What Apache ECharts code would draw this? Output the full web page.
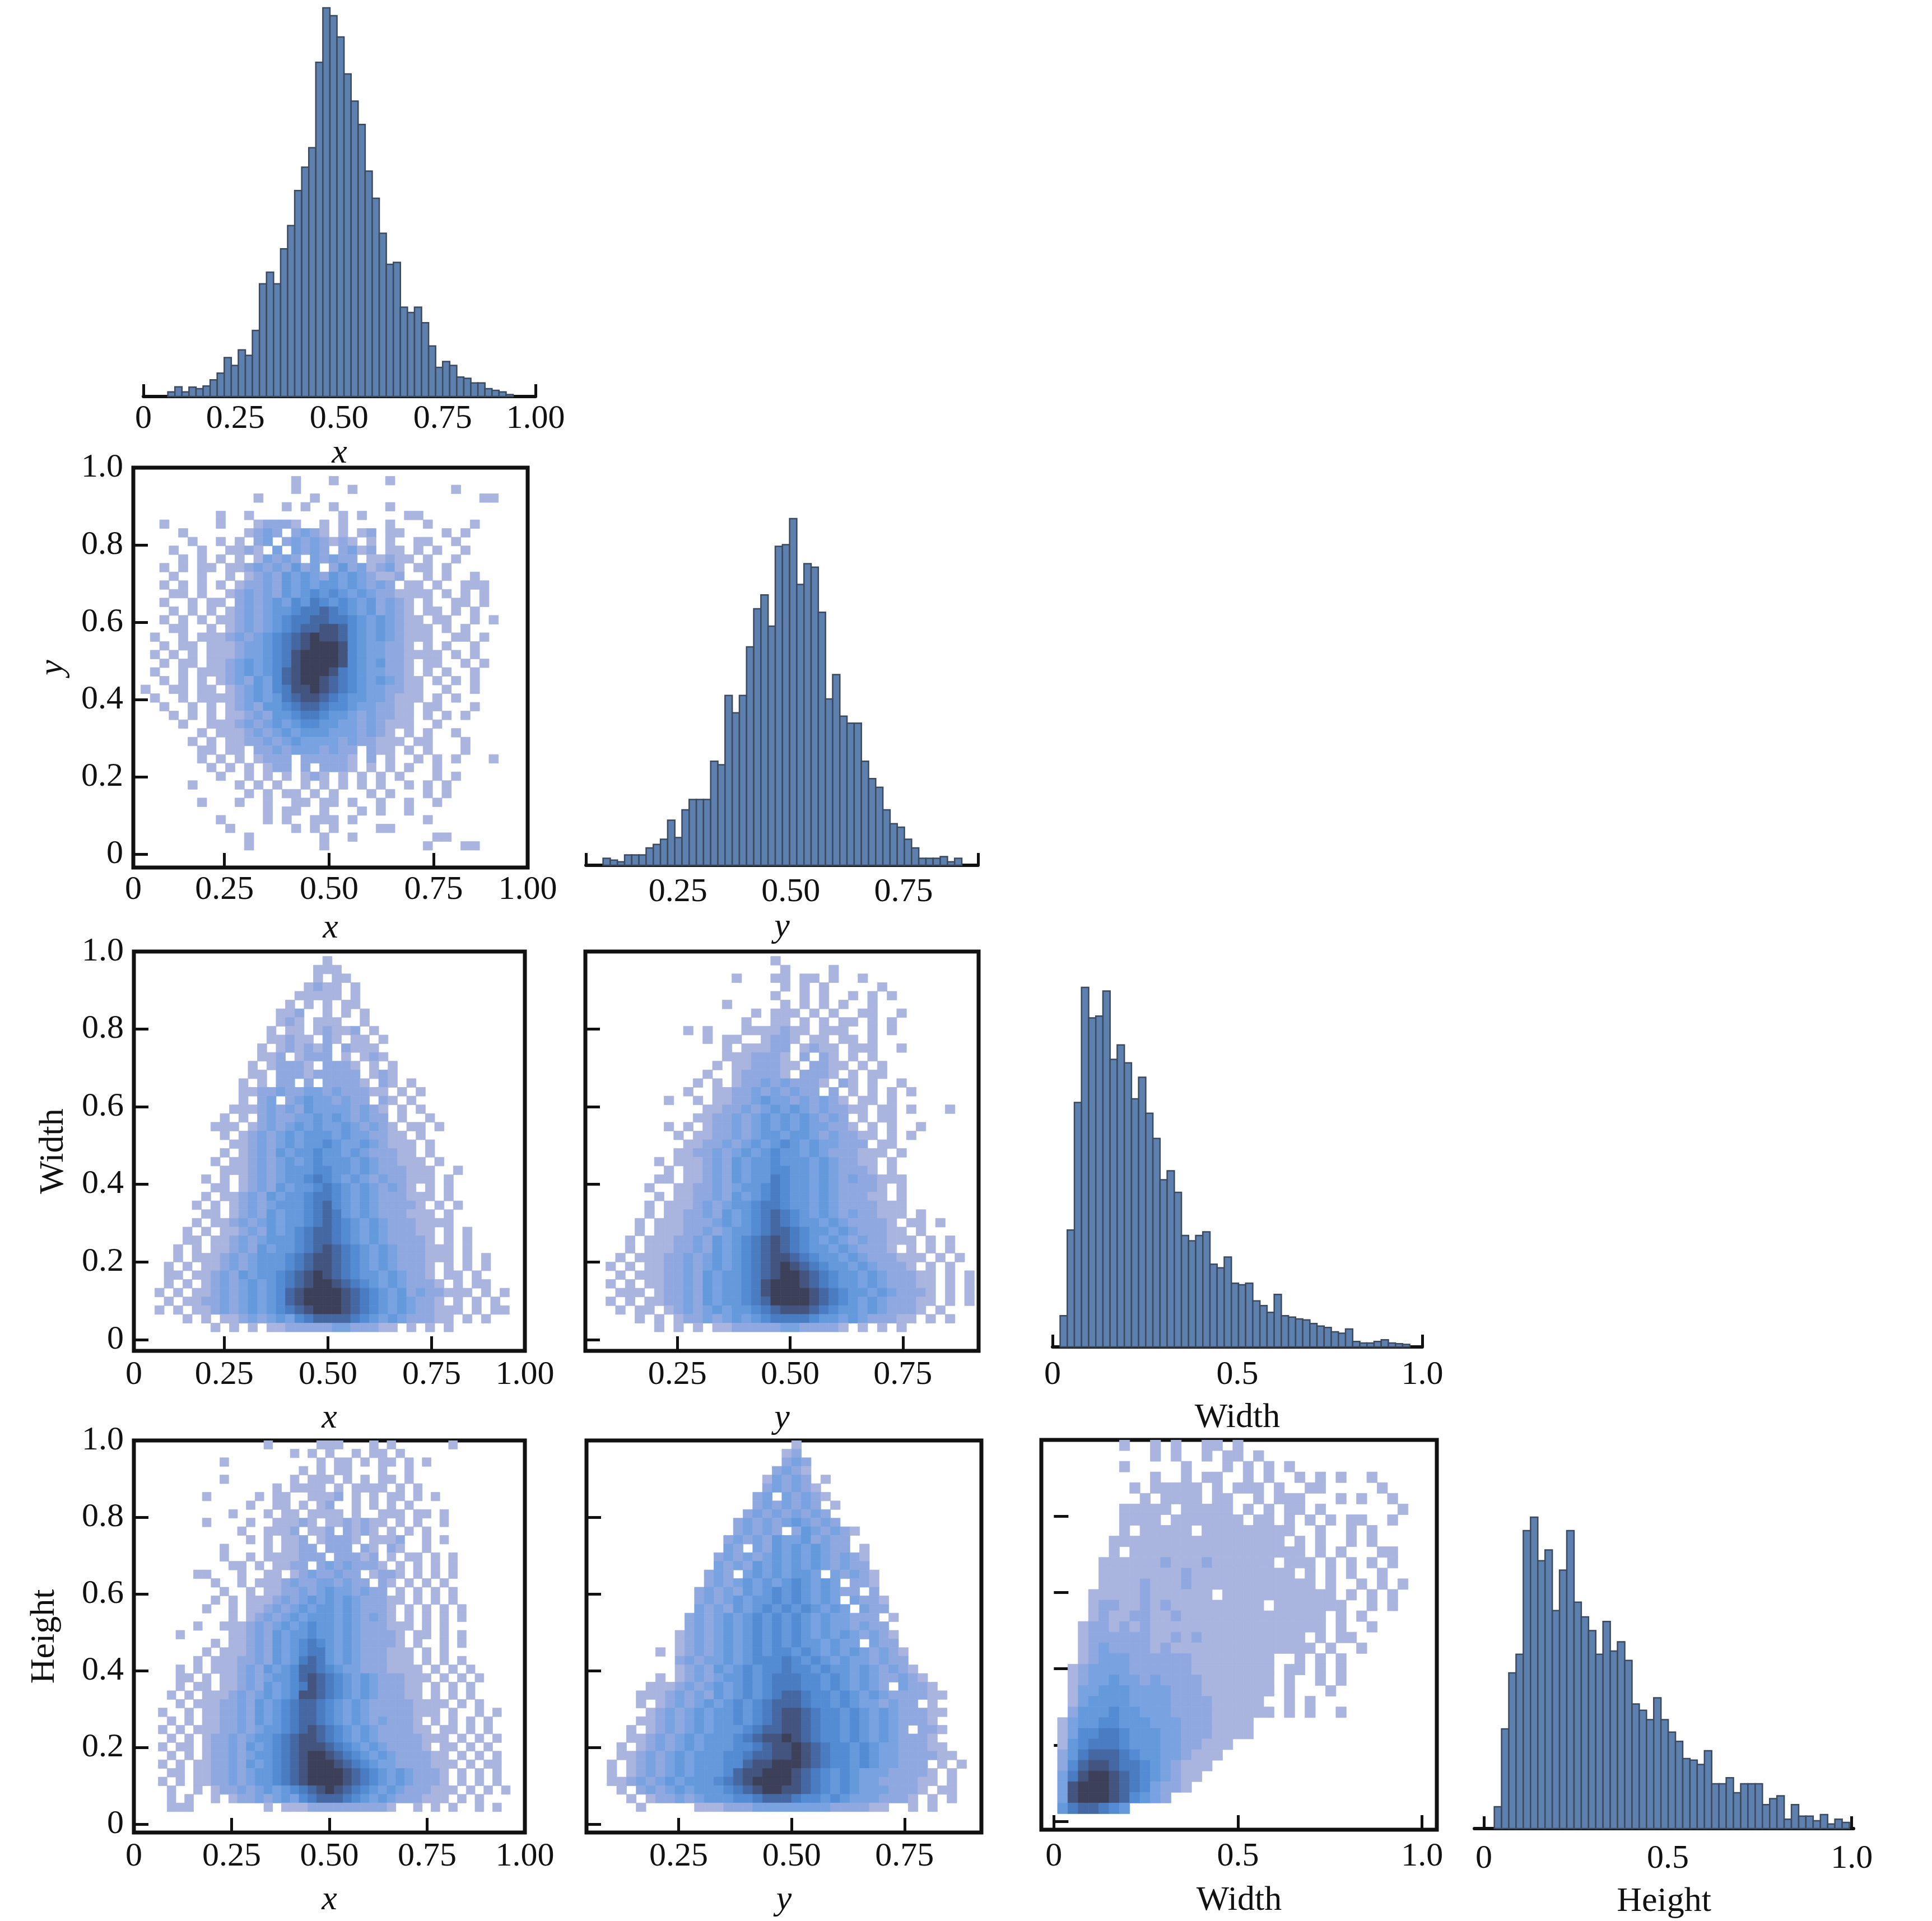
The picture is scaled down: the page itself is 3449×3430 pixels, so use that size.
<!DOCTYPE html>
<html>
<head>
    <meta charset="utf-8">
    <style>
        html, body { margin: 0; padding: 0; background: #ffffff; }
        #main { width: 3449px; height: 3430px; }
    </style>
    <script src="https://cdn.jsdelivr.net/npm/echarts@6/dist/echarts.min.js"></script>
</head>
<body>
    <div id="main"></div>
    <script type="text/javascript">
        // ---- diagonal histograms: bin start, bin width, bar heights (peak = 100) ----
        var xHistStart = 0.087, xHistWidth = 0.017;
        var xHist = [1.2, 2.5, 1.2, 2.4, 2, 2.7, 4.3, 6, 10, 8, 12, 10.6, 17, 29, 32, 29, 38, 44, 53, 59,
            64, 86, 100, 98, 92.5, 83, 76, 70, 58, 51, 42, 34, 34.5, 23, 21.6, 23, 19, 13, 7.5, 9,
            8, 5, 4.7, 3.5, 3.5, 2, 1.6, 1.2, 0.5];

        var yHistStart = 0.084, yHistWidth = 0.0159;
        var yHist = [2, 1.5, 1, 3, 3, 3, 5, 6, 7.5, 13, 8, 16, 19, 19, 19, 30, 29, 49, 44, 49,
            63, 74, 78, 69, 92, 92.5, 100, 81, 87, 86, 73, 48, 55, 43, 41, 41, 30, 25, 22.5, 16,
            12, 11, 7.5, 5, 2, 2, 2, 2.5, 1, 2];

        var wHistStart = 0.0205, wHistWidth = 0.0193;
        var wHist = [8.7, 32.5, 68, 100, 91.5, 92, 99, 80, 84, 79, 69, 75, 65, 58, 46.5, 49, 43, 31, 29.5, 31,
            32, 23, 22, 25, 17.7, 17.3, 17.7, 12.8, 11.5, 9.6, 14.6, 8.7, 8.3, 7.8, 7.5, 6.5, 5.8, 5.4, 4.2, 3.8,
            5, 1.5, 1.1, 1.1, 1.5, 2, 1.1, 0.9, 0.7];

        var hHistStart = 0.0283, hHistWidth = 0.0197;
        var hHist = [7, 32, 50, 56, 95.7, 100, 86, 89.5, 70, 83, 95.7, 72.7, 68, 63.6, 56, 66.5, 57, 60, 54, 40,
            38, 35, 42, 35, 31, 28, 22.5, 22, 20.6, 25, 14.4, 14.4, 16.3, 11.5, 14.4, 14.4, 14.4, 7.7, 9.6, 10.5,
            3, 7.7, 4, 4, 2.5, 4.5, 1.5, 3, 2];

        // ---- 2D histograms: count level per cell (0 empty .. 9 densest), top row first ----
        var xyBins = { x0: 0.05, dx: 0.0225, yTop: 0.9775, dy: 0.0225 };
        var xyCounts = [
            "................1...1.....1.............",
            "................1.....1..........1......",
            "............1.....1.................11..",
            "...............1.1..1.....1.............",
            "........1..1.........1.1....11..........",
            "..1.....1...12221..1.1....1...1....1....",
            "....1......1232.2321.1.12.11....1.1.....",
            ".....1..1.1.23.23232121.1.1..11..1......",
            "...1..1..1121.3.3232.2312.11.1.1..1.....",
            "....1.1.1.1.13232.32322.11211.1..1......",
            "..1.1.11.1123232423.24231231.11.1.......",
            "...1..1..1.12324343243432112..1.1..1....",
            "..1.1.1.1.12232434344343232.11.1..111...",
            "...11.1..1232324345454343221111.1.1.1...",
            "..1..1.11.2323435465454342321.1..11.1...",
            "...1.1.1.12323445667654342321.11.1.1....",
            "..1.1.1.1123234566776654343211.11..1.1..",
            "...11..1.1232345677887543432111.1.1.....",
            ".1..1.1112323456789887543432111..11.1...",
            "..1.11.1112334567899985433221.1.1..1....",
            ".1.1.1.1112334568999985433221111.1.1....",
            "..1.11.1123434568999985434221.11..1.1...",
            ".1..1.11123434578999865433221.1.1..1....",
            "..1.1.1.1232435789987654343211.1.1.1....",
            "1..11.11.123435688987654332211..1..1....",
            ".1..1.111123434678876544332111.1.1......",
            "..1..1.1.12324456776554332211.11...1....",
            "...1.1.1.11232445665443232211.1.1.1.....",
            "....1..1112323434554433232111..1........",
            "......1.1112323434443332321.1.1..1......",
            ".....1.1.1122323433332322111.11...1.....",
            "......11.11.22323332322.211.1.1...1.....",
            "......1.1.1.1222.222221.2.1..1.1.1...1..",
            ".......1.1.1.122.2.2221.1.1.1..1........",
            "........1..1.1.1.121.1.1.1.1...1.1......",
            ".....1....1.1.1..1.1.1.1.1..1.1.1.......",
            "...........1.1.11.1.1...1.1...1.1.......",
            "......1...1..1..11.11.1..1..1..1........",
            ".............1.11..1...1.1..1...........",
            "........1....1.1..111.1.......1.........",
            ".........1......1.1.1....11.............",
            "...........1.......1..1........11.......",
            "...........1.......1..........1...11...."
        ];

        var xwBins = { x0: 0.06, dx: 0.0225, yTop: 0.9875, dy: 0.0225 };
        var xWidthCounts = [
            "...................1....................",
            "..................111...................",
            "..................1.11..................",
            ".................1211.1.................",
            "................11111.1.................",
            "...............1.1.1.11.................",
            "..............112..1.1.1................",
            "..............121.111..1................",
            ".............1.11.12112.1...............",
            ".............11211.21.11.1..............",
            "............1.121212.2111...............",
            "............112.1222.1.121..............",
            "...........1.12221.2221.1.1.............",
            "...........11.222122222.121.............",
            "..........1.1.22.2.22221.21.1...........",
            "..........1122322332322211.1.1..........",
            "..........1.23.234332322.21.1...........",
            ".........11123232433332321.1.1..........",
            "........1.1.23223343432322.1..1.........",
            ".......111.1232343433432321.11.1........",
            "........1.123234344434332211.1..........",
            ".........11232343445433432111.1.........",
            "........1.1232434454434322211.1.........",
            ".......1.112323434544434322111.1........",
            "........11123234445544343222111..1......",
            "......1.1.123234456543432322111.1.......",
            ".......11.1232434456543432321.1.1.......",
            "......1.11232434456654343222111.1.......",
            ".....1.1.123234445675434322221.1.1......",
            "......11.1232434456764343222111.1.......",
            ".....1.11232343445676543432221111.......",
            "....1.1.11232434567765434322211.1.1.....",
            "....11.112323444567765434322221.1.1.....",
            "...1.1.11232434456787654343222111.1.....",
            "...1.1112323444567887654343222111.1.1...",
            "..1.1.1123234445678876543432221.1.1.1...",
            "..11.11232434456789876544343221.11.1....",
            "..1.1.12323434567899876543432221.1.11...",
            ".1.1.112323434578999987654342322111.1.1.",
            "..1.1122323434578999987654343221.1.1.1..",
            ".1.1.11232343456789998765434322111.1.11.",
            "....1.1.1123234356777765434322211.1.1...",
            ".......1.1.1.11222223322211.1.1.1......."
        ];

        var ywBins = { x0: 0.07, dx: 0.0215, yTop: 0.9875, dy: 0.0225 };
        var yWidthCounts = [
            "..................1.....................",
            "...................1....1...............",
            "..............1...11.11.1..1............",
            "...................1.1.1.....1..........",
            "..................1..1.1..1.1.1.........",
            ".............1.....1.1.1.1..1...........",
            "................1.111.1.1..11..1........",
            "...............1..11.1.1.11.1.1.........",
            ".........1.1...1111211.111..1.1.........",
            "...........1.11..1221.11.11.1...........",
            ".............1.11122.1211.111..1........",
            ".............1112221.2.21.1.1...........",
            "............1.1122211.2211.1.1..........",
            "...........1..122221.2221.1.11..........",
            "..........1.1.1223232221.21.1..1........",
            ".........1..11223232322.2.1.1.1.1.......",
            ".......1..1.11223433232321.11.1.........",
            "...........11223234343232211.11.1...1...",
            "..........1122323434343232.1.11.........",
            ".......1.1.1223234343433221.1.1..1......",
            "........1.1122323443443232211.1.1.......",
            ".........1122323434543433222.11.........",
            "........1122323434544343222111.1........",
            "......1.111232434454443432211.1.........",
            ".......1.11232434455443432221.1.........",
            "......11.11232434465443432322111........",
            ".....1..1122323445654434322221.1........",
            "......1.1122324345654434322211.1........",
            ".....1.1112323445665443432222111........",
            ".....1.1122324345676543432322111.1......",
            "....1.1112223434567654434322221.11.1....",
            "....1.11122323445677654434322211.1......",
            "...1.1112232434567876543432322111.1.1...",
            "...1.11122324345678765443432221.1.1.1...",
            "..1.111223234345678876544343222111.1.1..",
            ".1.1.1122323434567898765443432221.1.1...",
            "..1.1112232434456789987654434322211.1.1.",
            ".1.1.112232434456899987654434322211.1.1.",
            "..111.12232434456899998765443432221.1.1.",
            ".1.1.112232434456799998765434322211.1.1.",
            "..1.11.123234344567888765443432221.1....",
            "....1.1.1223234345666654434322211.1.1...",
            "......1.1.1.11222223322221.1.1.1........"
        ];

        var xhBins = { x0: 0.04, dx: 0.0225, yTop: 1.0, dy: 0.0225 };
        var xHeightCounts = [
            ".............1.....111...1.1......1.......",
            "................1.1.1..1.11.1.............",
            "........1..........1.11.1.11.1.1..........",
            ".................1.1.11...1..1............",
            "........1.......1.111.1.1.11.1............",
            "..............1.1111.1.1111.1.1...........",
            "......1.....1.11..1112.1.1.11.1.1.........",
            "...........1..11.1.12..1.1.1.1............",
            ".........1...1.11.1111.1..111.11.1........",
            "......1....1..11121.1121211.1.1..1........",
            "..........1..1112.112.2121.1.1.1..........",
            "...........1.1.112.12221.1112..1.1........",
            "........1....1.1122.222.21.21..1..........",
            "........1..1.1111222.22212.1.11.1.1.......",
            ".........11.1.1122.23232221.1.1.1.1.......",
            ".....11...1..11.12322322.1221.1.1.1.......",
            ".......1..1.1112322332322.21.1.1.1........",
            "........1..1.11223234332322.1.1.1.1.......",
            ".......1.1.111232343434322211.1.1.1.......",
            "......1..1.11232343443432221.1.1.1.1......",
            ".........1.12323434443432321.1.1.1.1......",
            ".....1..1112323434544343222111.1.1........",
            "...1.....11232434454434322221.11.1.1......",
            ".......1.11232434565434322221.1..1.1......",
            "......1.1112324345664343222111.1.1........",
            ".....1.11122324346764343222111.1.1.1......",
            "...1.1.111232434577654332221111.1.1.1.....",
            "...11.1.112323445787654343222111.1.1.1....",
            "...1.11.11232434568765434322211.1.1.1.....",
            "..1.1.1112323434588765434322211.1.1.1.....",
            "...1.11122324345677654343222221111.1.1....",
            ".1..1.112232434567765434322222111.1..1.1..",
            "..1.1.1122324345677654343232221.1.1.1.1...",
            ".1.1.111223234456787654343222211.11.1.1...",
            "..1.1.1223234456788765434322222111.1.1.1..",
            ".1.11.12232434567888765434322221.11.1.1...",
            "..1.1.1223234456789987654343222211.1.1.1..",
            ".1.1.112232434567899987654332222111.1.11..",
            "..11.11223234456789999876543432221.1.1.1..",
            ".1.1.11223234456789999876543432221.1.1.1..",
            "..1..1.1223234345678987654343222111.1.1.1.",
            "..1.1..1.1223234356777654343222111.1.1....",
            "..111........1.1112222222221..1.1.1..1.1.."
        ];

        var yhBins = { x0: 0.07, dx: 0.0215, yTop: 1.0, dy: 0.0225 };
        var yHeightCounts = [
            "....................1...................",
            "...................12...................",
            "...................232..................",
            "..................2321..................",
            ".................13232.1................",
            ".................232321.................",
            "................23.32321................",
            "................2323232.1...............",
            "...............232323232................",
            "..............23232343232...............",
            "..............23232.2432321.............",
            ".............2323243342322..............",
            ".............32.3243434322.1............",
            "............2323234343432321............",
            "............3232434343432322............",
            "...........232.34343443.32321...........",
            "...........23234343454343.221...........",
            "..........23232434545434322.2...........",
            "..........232343445454343.3221..........",
            "..........3232434545454343.322..........",
            ".........23234345454543433222.1.........",
            ".........232343454545434332322..........",
            "........12323434545454343432321.........",
            "........1232343454545443433.322.........",
            "......1.123234345455454343432321........",
            "........232334345556545434332322........",
            "........1232434545565545443432321.......",
            "......1.12323445456665545434322321......",
            ".....1112323434545666554543432.3221.....",
            "....11123232434545677655454343222211....",
            "....1.123234345456777655454332322.1.....",
            ".....1232343445456788765545434322211....",
            "....1123234344545678876554543432221.....",
            "...1.123234344456778876554543432.221....",
            "...11232343444567889876554543432221.....",
            "..1.12323434445567889876554543322211....",
            "..11232343444556778898765545433222211...",
            ".1.1232343444557889998765545433222.1.1..",
            ".1.12323434445788999876545433322221.1...",
            ".1123234344456789999876545433222211.1...",
            "..1.232343444567899887654543332221.11...",
            "...1.1223234445567776554543332221.1.1...",
            "....1.....11122233333333222211..1.1....."
        ];

        var whBins = { x0: 0.01, dx: 0.028, yTop: 1.0, dy: 0.028 };
        var widthHeightCounts = [
            "......1..1.1..11.1.................",
            ".........1.1..1.11.1...............",
            "......1.....1...1.1.1.1............",
            ".........1..1.11..1.1..1.1.1..1....",
            ".......1.11111.1.111.1..11.....1...",
            "........1.1111.11..1.111...1.1..1..",
            "......11111.11111.1.1.11.1.......1.",
            "......1111.1111111.11.1.1.1.11..1..",
            "......1.11111.111111111..1..1.1....",
            ".....11111111111111111.1.1..1.1....",
            ".....1.11111111111111111.1.1...11..",
            "....11111121112111111.111.1.1.1.1..",
            "....1111111121111111111.1.1.1..1...",
            "....111121112111111111111.1..1.1.1.",
            "...111112111111.11111111111.1.1.1..",
            "...12211212111111111.1111111..1.1..",
            "...12112211211111111111111.1.1.....",
            "..122121211111111111111111.1..1....",
            "..1222222112121111111111.1.11......",
            "..12322221211111111111111.1..1.....",
            "..1233322222211111111..1.1.1.......",
            ".12333322222211111111.11.1.1.......",
            ".12334332322221111111.1..1.1.......",
            ".13344433332221111111.1...1........",
            ".1344443333222211111..1.1..........",
            ".24445443332222111111.1.1..1.......",
            "1344554443332221111................",
            "1355665444332221111................",
            "14566654443322111..................",
            "2467776544332111...................",
            "257887665432111....................",
            "36899876543211.....................",
            "3899987653221......................",
            "38999875432........................",
            "4677654............................"
        ];

        // ---- look ----
        var FONT = 'Liberation Serif';
        var INK = '#111111';
        var LEVEL_COLORS = ['#a9b4df', '#8fa9e0', '#78a2e0', '#6499dc', '#548cd4',
            '#4a7cc2', '#4668a2', '#43547e', '#3d4059'];
        var BAR_FILL = '#5d80ae';
        var BAR_EDGE = '#3c4a5f';

        function histData(start, width, values) {
            return values.map(function (v, i) {
                return [start + i * width, start + (i + 1) * width, v];
            });
        }

        function cellData(bins, rows) {
            var out = [];
            rows.forEach(function (row, r) {
                for (var c = 0; c < row.length; c++) {
                    var lv = parseInt(row.charAt(c), 10);
                    if (!lv) continue;
                    var x0 = bins.x0 + c * bins.dx;
                    var yt = bins.yTop - r * bins.dy;
                    out.push([x0, x0 + bins.dx, yt - bins.dy, yt, lv]);
                }
            });
            return out;
        }

        function barItem(params, api) {
            var a = api.coord([api.value(0), api.value(2)]);
            var b = api.coord([api.value(1), 0]);
            return {
                type: 'rect',
                shape: { x: a[0], y: a[1], width: b[0] - a[0], height: b[1] - a[1] },
                style: { fill: BAR_FILL, stroke: BAR_EDGE, lineWidth: 2.5 }
            };
        }

        function cellItem(params, api) {
            var a = api.coord([api.value(0), api.value(3)]);
            var b = api.coord([api.value(1), api.value(2)]);
            var col = LEVEL_COLORS[api.value(4) - 1];
            return {
                type: 'rect',
                shape: { x: a[0], y: a[1], width: b[0] - a[0], height: b[1] - a[1] },
                style: { fill: col, stroke: col, lineWidth: 0.8 }
            };
        }

        function labelFormatter(pairs) {
            return function (v) {
                var best = '', d = 1e9;
                pairs.forEach(function (p) {
                    if (Math.abs(p[0] - v) < d) { d = Math.abs(p[0] - v); best = p[1]; }
                });
                return best;
            };
        }

        var grids = [], xAxes = [], yAxes = [], series = [];
        var FS = 60;

        function addPanel(p) {
            var gi = grids.length;
            grids.push({
                left: p.box[0], top: p.box[1], width: p.box[2], height: p.box[3],
                show: !!p.frame, borderColor: INK, borderWidth: p.frame ? 7 : 0,
                backgroundColor: 'transparent', containLabel: false
            });
            xAxes.push({
                gridIndex: gi, type: 'value', min: p.x[0], max: p.x[1],
                axisLine: { show: !p.frame, onZero: false, lineStyle: { color: INK, width: 6 } },
                axisTick: { show: true, inside: true, length: p.frame ? 26 : 22,
                    lineStyle: { color: INK, width: 5 }, customValues: p.xTicks },
                axisLabel: { show: true, customValues: p.xLabels.map(function (l) { return l[0]; }),
                    formatter: labelFormatter(p.xLabels), margin: p.xMargin,
                    fontFamily: FONT, fontSize: FS, color: INK },
                splitLine: { show: false },
                name: p.xName, nameLocation: 'middle', nameGap: p.xGap,
                nameTextStyle: { fontFamily: FONT, fontSize: FS + 2, color: INK,
                    fontStyle: p.xItalic ? 'italic' : 'normal' }
            });
            if (p.hist) {
                yAxes.push({ gridIndex: gi, type: 'value', min: 0, max: 100, show: false });
                series.push({
                    type: 'custom', xAxisIndex: gi, yAxisIndex: gi, renderItem: barItem,
                    encode: { x: [0, 1], y: 2 }, data: p.data, silent: true
                });
            } else {
                yAxes.push({
                    gridIndex: gi, type: 'value', min: p.y[0], max: p.y[1],
                    axisLine: { show: false },
                    axisTick: { show: true, inside: true, length: 26,
                        lineStyle: { color: INK, width: 5 }, customValues: [0, 0.2, 0.4, 0.6, 0.8] },
                    axisLabel: { show: !!p.yName, customValues: [0, 0.2, 0.4, 0.6, 0.8, 1.0],
                        formatter: labelFormatter([[0, '0'], [0.2, '0.2'], [0.4, '0.4'], [0.6, '0.6'], [0.8, '0.8'], [1.0, '1.0']]),
                        margin: 18, fontFamily: FONT, fontSize: FS, color: INK },
                    splitLine: { show: false },
                    name: p.yName || '', nameLocation: 'middle', nameGap: p.yGap || 0,
                    nameTextStyle: { fontFamily: FONT, fontSize: FS + 2, color: INK,
                        fontStyle: p.yItalic ? 'italic' : 'normal' }
                });
                series.push({
                    type: 'custom', xAxisIndex: gi, yAxisIndex: gi, renderItem: cellItem,
                    encode: { x: [0, 1], y: [2, 3] }, data: p.data, silent: true, clip: true
                });
            }
        }

        var col1Labels = function (lo, hi) {
            return [[lo, '0'], [0.25, '0.25'], [0.5, '0.50'], [0.75, '0.75'], [hi, '1.00']];
        };
        var col2Labels = [[0.25, '0.25'], [0.5, '0.50'], [0.75, '0.75']];
        var halfLabels = [[0, '0'], [0.5, '0.5'], [1.0, '1.0']];

        // row 1
        addPanel({ hist: true, box: [256, 14, 700, 694], x: [0.028, 0.974],
            xTicks: [0.028, 0.25, 0.5, 0.75, 0.974], xLabels: col1Labels(0.028, 0.974), xMargin: 10,
            xName: 'x', xItalic: true, xGap: 60, data: histData(xHistStart, xHistWidth, xHist) });
        // row 2
        addPanel({ frame: true, box: [238, 835, 704, 714], x: [0.032, 0.975], y: [-0.035, 1.0],
            xTicks: [0.25, 0.5, 0.75], xLabels: col1Labels(0.032, 0.975), xMargin: 10,
            xName: 'x', xItalic: true, xGap: 78, yName: 'y', yItalic: true, yGap: 112,
            data: cellData(xyBins, xyCounts) });
        addPanel({ hist: true, box: [1046, 926, 700, 619], x: [0.046, 0.915],
            xTicks: [0.046, 0.25, 0.5, 0.75, 0.915], xLabels: col2Labels, xMargin: 18,
            xName: 'y', xItalic: true, xGap: 80, data: histData(yHistStart, yHistWidth, yHist) });
        // row 3
        addPanel({ frame: true, box: [239, 1699, 698, 713], x: [0.032, 0.975], y: [-0.029, 1.0],
            xTicks: [0.25, 0.5, 0.75], xLabels: col1Labels(0.032, 0.975), xMargin: 13,
            xName: 'x', xItalic: true, xGap: 90, yName: 'Width', yGap: 112,
            data: cellData(xwBins, xWidthCounts) });
        addPanel({ frame: true, box: [1045, 1699, 702, 713], x: [0.046, 0.918], y: [-0.029, 1.0],
            xTicks: [0.25, 0.5, 0.75], xLabels: col2Labels, xMargin: 13,
            xName: 'y', xItalic: true, xGap: 90, data: cellData(ywBins, yWidthCounts) });
        addPanel({ hist: true, box: [1879, 1763, 660, 642], x: [0, 1],
            xTicks: [0, 0.5, 1], xLabels: halfLabels, xMargin: 20,
            xName: 'Width', xGap: 96, data: histData(wHistStart, wHistWidth, wHist) });
        // row 4
        addPanel({ frame: true, box: [239, 2572, 698, 700], x: [0, 1], y: [-0.022, 1.0],
            xTicks: [0.25, 0.5, 0.75], xLabels: col1Labels(0, 1), xMargin: 13,
            xName: 'x', xItalic: true, xGap: 90, yName: 'Height', yGap: 128,
            data: cellData(xhBins, xHeightCounts) });
        addPanel({ frame: true, box: [1047, 2572, 705, 700], x: [0.046, 0.92], y: [-0.022, 1.0],
            xTicks: [0.25, 0.5, 0.75], xLabels: col2Labels, xMargin: 13,
            xName: 'y', xItalic: true, xGap: 90, data: cellData(yhBins, yHeightCounts) });
        addPanel({ frame: true, box: [1859, 2571, 706, 696], x: [-0.034, 1.04], y: [-0.022, 1.0],
            xTicks: [0, 0.5, 1], xLabels: halfLabels, xMargin: 18,
            xName: 'Width', xGap: 96, data: cellData(whBins, widthHeightCounts) });
        addPanel({ hist: true, box: [2632, 2709, 677, 556], x: [-0.026, 1.005],
            xTicks: [0, 0.5, 1], xLabels: halfLabels, xMargin: 24,
            xName: 'Height', xGap: 100, data: histData(hHistStart, hHistWidth, hHist) });

        var myChart = echarts.init(document.getElementById('main'));
        myChart.setOption({
            backgroundColor: '#ffffff',
            animation: false,
            textStyle: { fontFamily: FONT, fontSize: FS, color: INK },
            grid: grids,
            xAxis: xAxes,
            yAxis: yAxes,
            series: series
        });
    </script>
</body>
</html>
